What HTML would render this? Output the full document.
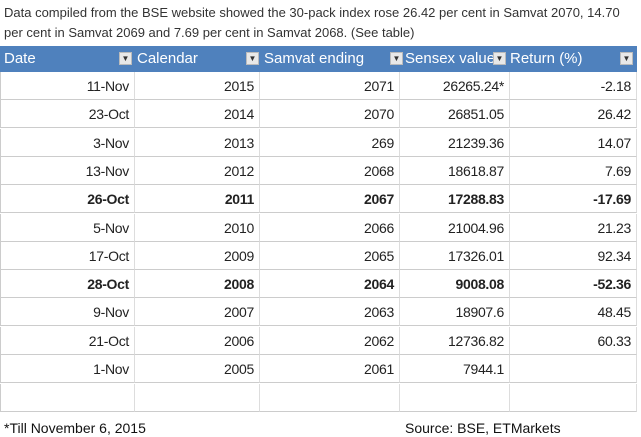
<!DOCTYPE html>
<html><head><meta charset="utf-8"><style>
body{margin:0;width:641px;height:437px;background:#fff;overflow:hidden;font-family:"Liberation Sans",sans-serif;position:relative}
.intro{position:absolute;left:4px;top:3px;width:636px;font-size:13px;line-height:20px;color:#333}
.hdr{position:absolute;top:46px;left:0;width:637px;height:26px;background:#4f81bd}
.hc{position:absolute;top:0;height:26px;line-height:26px;color:#fff;font-size:15px;transform-origin:left;}
.dd{position:absolute;top:6px;width:13px;height:13px;background:#e8e8e8;border:1px solid #bbb;box-sizing:border-box;font-size:8px;line-height:12px;text-align:center;color:#333}
.cell{position:absolute;height:28px;line-height:28px;font-size:14px;color:#222;text-align:right;box-sizing:border-box;padding-right:5px;border-right:1px solid #ddd;border-bottom:1px solid #ccc;letter-spacing:-0.3px}
.b{font-weight:bold}
.foot{position:absolute;font-size:14px;color:#111}
</style></head><body>
<div class="intro">Data compiled from the BSE website showed the 30-pack index rose 26.42 per cent in Samvat 2070, 14.70 per cent in Samvat 2069 and 7.69 per cent in Samvat 2068. (See table)</div>
<div class="hdr">
<div class="hc" style="left:4px">Date</div>
<div class="dd" style="left:119px">▼</div>
<div class="hc" style="left:137px">Calendar</div>
<div class="dd" style="left:246px">▼</div>
<div class="hc" style="left:264px">Samvat ending</div>
<div class="dd" style="left:390px">▼</div>
<div class="hc" style="left:405px">Sensex value</div>
<div class="dd" style="left:493px">▼</div>
<div class="hc" style="left:510px">Return (%)</div>
<div class="dd" style="left:620px">▼</div>
</div>
<div id="rows"></div>
<div class="cell" style="left:0;top:384px;width:135px;border-left:1px solid #ccc"></div>
<div class="cell" style="left:135px;top:384px;width:125px"></div>
<div class="cell" style="left:260px;top:384px;width:140px"></div>
<div class="cell" style="left:400px;top:384px;width:110px"></div>
<div class="cell" style="left:510px;top:384px;width:127px"></div>
<div class="foot" style="left:4px;top:420px">*Till November 6, 2015</div>
<div class="foot" style="left:405px;top:420px">Source: BSE, ETMarkets</div>
<script>
const dates=["11-Nov","23-Oct","3-Nov","13-Nov","26-Oct","5-Nov","17-Oct","28-Oct","9-Nov","21-Oct","1-Nov"];
const calendar=["2015","2014","2013","2012","2011","2010","2009","2008","2007","2006","2005"];
const samvat=["2071","2070","269","2068","2067","2066","2065","2064","2063","2062","2061"];
const sensex=["26265.24*","26851.05","21239.36","18618.87","17288.83","21004.96","17326.01","9008.08","18907.6","12736.82","7944.1"];
const returns=["-2.18","26.42","14.07","7.69","-17.69","21.23","92.34","-52.36","48.45","60.33",""];
const boldRows=[4,7];
const cols=[{l:0,w:135,d:dates,n:'date-cell'},{l:135,w:125,d:calendar,n:'calendar-cell'},{l:260,w:140,d:samvat,n:'samvat-cell'},{l:400,w:110,d:sensex,n:'sensex-cell'},{l:510,w:127,d:returns,n:'return-cell'}];
const root=document.getElementById('rows');
const rowH=28.3;
dates.forEach((_,i)=>{
 cols.forEach((c,j)=>{
  const el=document.createElement('div');
  
  
  el.className='cell'+(boldRows.includes(i)?' b':'');
  el.style.left=c.l+'px';el.style.top=(72+i*rowH)+'px';el.style.width=c.w+'px';
  if(j==0)el.style.borderLeft='1px solid #ccc';
  el.textContent=c.d[i];
  root.appendChild(el);
 });
});
</script>
</body></html>
